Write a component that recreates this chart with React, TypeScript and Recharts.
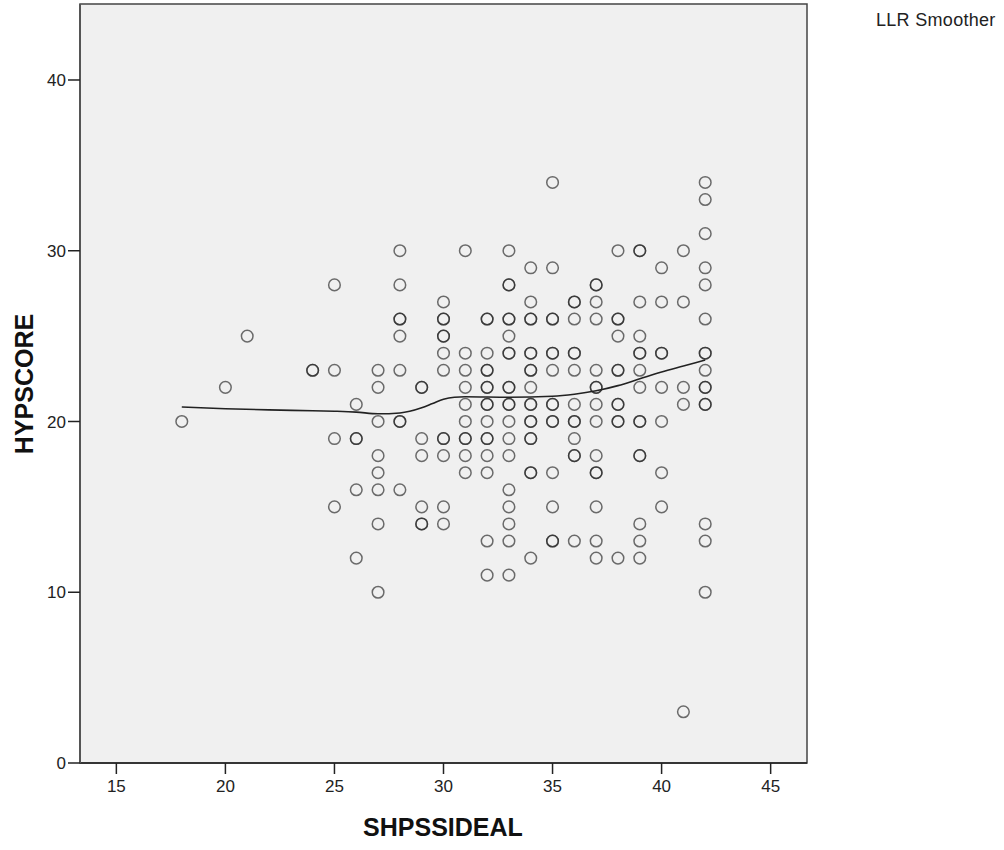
import React from "react";
import {
  ScatterChart,
  Scatter,
  XAxis,
  YAxis,
  CartesianGrid,
  ReferenceArea,
} from "recharts";

// SHPSSIDEAL values that have at least one case
const idealValues = [
  18, 20, 21, 24, 25, 26, 27, 28, 29, 30, 31, 32, 33, 34, 35, 36, 37, 38, 39,
  40, 41, 42,
];

// HYPSCORE of every case, one list per SHPSSIDEAL value (repeats = overlapping cases)
const scoresByIdeal = [
  [20],
  [22],
  [25],
  [23, 23],
  [28, 23, 19, 15],
  [21, 19, 19, 16, 12],
  [23, 22, 20, 18, 17, 16, 14, 10],
  [30, 28, 26, 26, 25, 23, 20, 20, 16],
  [22, 22, 19, 18, 15, 14, 14],
  [27, 26, 26, 25, 25, 24, 23, 19, 19, 18, 15, 14],
  [30, 24, 23, 22, 21, 20, 19, 19, 18, 17],
  [26, 26, 24, 23, 23, 22, 22, 21, 21, 20, 19, 19, 18, 17, 13, 11],
  [30, 28, 28, 26, 26, 25, 24, 24, 22, 22, 21, 21, 20, 19, 18, 16, 15, 14, 13, 11],
  [29, 27, 26, 26, 24, 24, 23, 23, 22, 21, 21, 20, 20, 19, 19, 17, 17, 12],
  [34, 29, 26, 26, 24, 24, 23, 21, 21, 20, 20, 17, 15, 13, 13],
  [27, 27, 26, 24, 24, 23, 21, 20, 20, 19, 18, 18, 13],
  [28, 28, 27, 26, 23, 22, 22, 21, 20, 18, 17, 17, 15, 13, 12],
  [30, 26, 26, 25, 23, 23, 21, 21, 20, 20, 12],
  [30, 30, 27, 25, 24, 24, 23, 22, 20, 20, 18, 18, 14, 13, 12],
  [29, 27, 24, 24, 22, 20, 17, 15],
  [30, 27, 22, 21, 3],
  [34, 33, 31, 29, 28, 26, 24, 24, 23, 22, 22, 21, 21, 14, 13, 10],
];

// LLR smoother
const smootherX = [18, 20, 22, 24, 25, 26, 27, 28, 29, 29.5, 30, 30.5, 31, 33, 35, 36, 37, 38, 39, 40, 41, 42];
const smootherY = [
  20.85, 20.75, 20.68, 20.63, 20.6, 20.55, 20.45, 20.5, 20.8, 21.05, 21.3,
  21.42, 21.45, 21.42, 21.48, 21.6, 21.8, 22.1, 22.5, 22.9, 23.25, 23.6,
];

const xTicks = [15, 20, 25, 30, 35, 40, 45];
const yTicks = [0, 10, 20, 30, 40];

const X_MIN = 13.333;
const X_MAX = 46.667;
const Y_MAX = 44.45;

const FONT = "Arial, 'Liberation Sans', sans-serif";

const points = idealValues.flatMap((x, i) =>
  scoresByIdeal[i].map((y) => ({ x, y }))
);
const smoother = smootherX.map((x, i) => ({ x, y: smootherY[i] }));

const OpenCircle = (props: any) => (
  <circle
    cx={props.cx}
    cy={props.cy}
    r={5.8}
    fill="none"
    stroke="#222"
    strokeOpacity={0.65}
    strokeWidth={1.5}
  />
);

const tickStyle = { fontSize: 17, fill: "#222", fontFamily: FONT };

const App = () => {
  return (
    <div
      style={{
        position: "absolute",
        left: 0,
        top: 0,
        width: 1004,
        height: 850,
        background: "#fff",
      }}
    >
      <ScatterChart
        width={1004}
        height={850}
        margin={{ top: 4, right: 197, bottom: 0, left: 0 }}
      >
        <CartesianGrid
          horizontal={false}
          vertical={false}
          fill="#f0f0f0"
          fillOpacity={1}
        />
        <ReferenceArea
          x1={X_MIN}
          x2={X_MAX}
          y1={0}
          y2={Y_MAX}
          fill="none"
          stroke="#444"
          strokeWidth={1.5}
        />
        <XAxis
          type="number"
          dataKey="x"
          domain={[X_MIN, X_MAX]}
          ticks={xTicks}
          allowDataOverflow
          height={87}
          tickSize={11}
          tickMargin={6}
          tick={tickStyle}
          stroke="#222"
          axisLine={{ stroke: "#222", strokeWidth: 1.5 }}
          tickLine={{ stroke: "#222", strokeWidth: 1.5 }}
          label={{
            content: () => (
              <text
                x={443}
                y={836}
                textAnchor="middle"
                style={{
                  fontFamily: FONT,
                  fontWeight: "bold",
                  fontSize: 25,
                  fill: "#111",
                }}
              >
                SHPSSIDEAL
              </text>
            ),
          }}
        />
        <YAxis
          type="number"
          dataKey="y"
          domain={[0, Y_MAX]}
          ticks={yTicks}
          allowDataOverflow
          width={80}
          tickSize={12}
          tickMargin={2}
          tick={tickStyle}
          stroke="#444"
          axisLine={{ stroke: "#555", strokeWidth: 2 }}
          tickLine={{ stroke: "#222", strokeWidth: 1.5 }}
          label={{
            content: () => (
              <text
                x={33}
                y={384}
                transform="rotate(-90 33 384)"
                textAnchor="middle"
                style={{
                  fontFamily: FONT,
                  fontWeight: "bold",
                  fontSize: 25,
                  fill: "#111",
                }}
              >
                HYPSCORE
              </text>
            ),
          }}
        />
        <Scatter
          name="HYPSCORE"
          data={points}
          shape={OpenCircle}
          isAnimationActive={false}
        />
        <Scatter
          name="LLR Smoother"
          data={smoother}
          line={{ stroke: "#222", strokeWidth: 1.6 }}
          lineJointType="monotoneX"
          shape={() => <g />}
          legendType="none"
          isAnimationActive={false}
        />
      </ScatterChart>
      <div
        style={{
          position: "absolute",
          left: 876,
          top: 10,
          fontFamily: FONT,
          fontSize: 18,
          letterSpacing: 0.3,
          color: "#222",
          whiteSpace: "nowrap",
        }}
      >
        LLR Smoother
      </div>
    </div>
  );
};

export default App;
